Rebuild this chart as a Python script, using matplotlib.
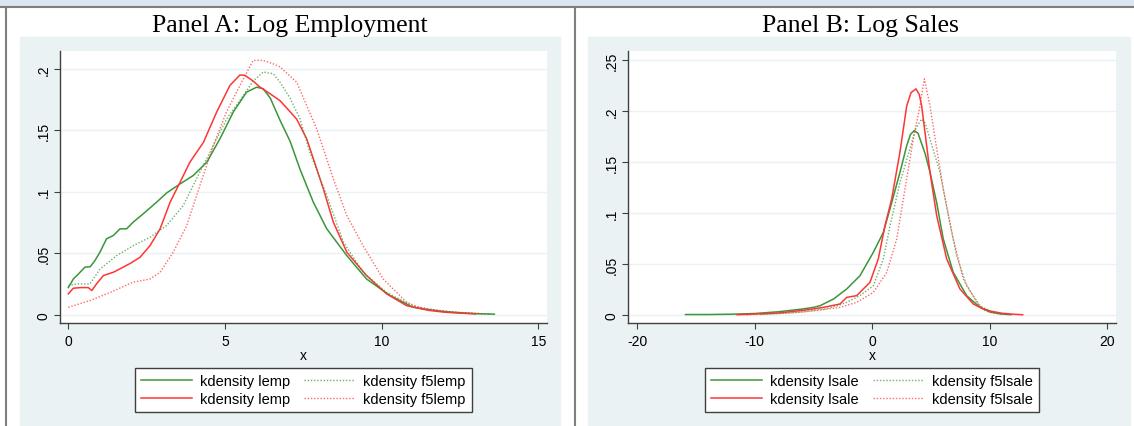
import matplotlib
matplotlib.use("Agg")
import matplotlib.pyplot as plt
from matplotlib.patches import Rectangle
from matplotlib.lines import Line2D

plt.rcParams['font.family'] = ['Liberation Sans', 'DejaVu Sans']
plt.rcParams['axes.unicode_minus'] = False

# ---- Panel A: log employment densities ----
lemp_g_x = [0, 0.16, 0.32, 0.53, 0.7, 0.85, 1.01, 1.22, 1.44, 1.65, 1.86, 2.07, 2.39, 2.82, 3.14,
            3.57, 3.99, 4.42, 4.84, 5.27, 5.69, 6.01, 6.22, 6.45, 6.76, 7.08, 7.40, 7.82, 8.25, 8.89,
            9.52, 10.27, 11.0, 11.5, 12.0, 12.5, 13.0, 13.6]
lemp_g_y = [.022, .029, .033, .0386, .039, .044, .0508, .0617, .0644, .0698, .0698, .0752, .082, .0915, .099,
            .1064, .1132, .124, .143, .165, .181, .185, .1838, .176, .158, .141, .118, .0915, .0698, .048,
            .029, .0155, .006, .004, .0025, .0015, .0008, .0004]

lemp_r_x = [0, 0.16, 0.4, 0.64, 0.75, 0.9, 1.12, 1.44, 1.75, 2.0, 2.29, 2.61, 2.93, 3.25, 3.57, 3.88,
            4.31, 4.74, 5.16, 5.48, 5.64, 5.9, 6.12, 6.44, 6.76, 7.08, 7.29, 7.61, 8.14, 8.46, 8.89,
            9.52, 10.16, 10.8, 11.5, 12.0, 12.5, 13.0]
lemp_r_y = [.0169, .0215, .022, .022, .0196, .025, .0318, .0345, .0386, .042, .0467, .0562, .0698, .0915, .1078, .124,
            .140, .165, .1865, .195, .1946, .190, .185, .1797, .174, .165, .159, .143, .1024, .0752, .0508,
            .0318, .0169, .0073, .0035, .002, .0012, .0006]

f5lemp_g_x = [0, 0.3, 0.69, 1.01, 1.54, 2.07, 2.61, 3.14, 3.67, 4.2, 4.63, 5.05, 5.58, 5.9, 6.22,
              6.54, 6.76, 7.08, 7.40, 7.71, 8.25, 8.78, 9.41, 10.16, 11.0, 11.5, 12.0, 12.5, 13.0, 13.5]
f5lemp_g_y = [.0236, .025, .025, .037, .048, .056, .063, .0725, .0888, .116, .1376, .159, .178, .190, .1974,
              .196, .189, .176, .159, .132, .097, .059, .0345, .018, .007, .0045, .0028, .0016, .001, .0005]

f5lemp_r_x = [0, 0.69, 1.33, 2.07, 2.61, 2.93, 3.35, 3.78, 4.2, 4.63, 5.05, 5.48, 5.9, 6.22, 6.54,
              6.76, 7.29, 7.93, 8.46, 8.89, 9.41, 10.05, 10.8, 11.2, 11.7, 12.2, 12.7, 13.2]
f5lemp_r_y = [.006, .0114, .018, .0264, .029, .0345, .0508, .0725, .105, .1376, .165, .1865, .2068, .2068, .204,
              .2015, .189, .151, .1105, .0806, .056, .029, .010, .006, .0038, .0024, .0014, .0008]

# ---- Panel B: log sales densities ----
lsale_g_x = [-15.9, -14, -12, -10, -8, -6, -5, -4.45, -3.3, -2.18, -1.05, 0.09, 0.94, 1.65, 2.36, 2.93,
             3.25, 3.57, 3.9, 4.06, 4.5, 4.91, 5.48, 6.04, 6.89, 8.03, 9.17, 10.0, 11.0, 11.8]
lsale_g_y = [.0005, .0005, .0008, .0015, .0032, .0058, .0075, .0091, .0157, .0255, .0385, .0615, .081, .110, .140, .166,
             .177, .1807, .178, .1725, .158, .140, .110, .0745, .0418, .019, .0075, .003, .001, .0003]

lsale_r_x = [-11.5, -10, -8, -6, -5, -4.17, -2.75, -2.18, -1.33, -0.2, 0.51, 1.08, 1.65, 2.36, 2.93,
             3.3, 3.72, 4.0, 4.2, 4.91, 5.48, 6.33, 7.46, 8.6, 9.17, 10.0, 11.0, 12.0, 12.8]
lsale_r_y = [.0003, .001, .002, .0045, .006, .0075, .0108, .0173, .019, .032, .055, .0875, .1137, .160, .205,
             .218, .2216, .216, .205, .140, .0974, .055, .0255, .0108, .0075, .004, .0018, .0008, .0003]

f5lsale_g_x = [-9.5, -8, -6, -4, -3, -2.18, -1.05, 0.09, 0.94, 1.51, 2.36, 3.21, 3.7, 4.2, 4.5, 4.91,
               5.76, 6.47, 7.18, 8.03, 9.17, 10, 11]
f5lsale_g_y = [.0005, .0015, .003, .006, .009, .0124, .019, .0287, .055, .0875, .130, .163, .183, .192, .188, .1725,
               .14, .0974, .058, .0287, .009, .004, .001]

f5lsale_r_x = [-10.7, -9, -7, -5, -4, -2.75, -1.33, 0.09, 1.23, 2.08, 2.78, 3.49, 4.06, 4.43, 4.91, 5.48,
               6.04, 6.89, 7.74, 8.89, 9.45, 10.2, 11]
f5lsale_r_y = [.0003, .001, .002, .004, .0055, .0075, .0124, .0222, .0418, .0745, .1235, .1725, .205, .2314, .205, .163,
               .1235, .0745, .0353, .0124, .005, .002, .0008]

# ticks
a_xticks = [0, 5, 10, 15]
a_yticks = [0, .05, .1, .15, .2]
a_ylabels = ['0', '.05', '.1', '.15', '.2']
b_xticks = [-20, -10, 0, 10, 20]
b_yticks = [0, .05, .1, .15, .2, .25]
b_ylabels = ['0', '.05', '.1', '.15', '.2', '.25']

titles = ['Panel A: Log Employment', 'Panel B: Log Sales']
legend_a = ['kdensity lemp', 'kdensity lemp', 'kdensity f5lemp', 'kdensity f5lemp']
legend_b = ['kdensity lsale', 'kdensity lsale', 'kdensity f5lsale', 'kdensity f5lsale']

GREEN = '#3a963a'
RED = '#ff3535'
REGION = '#eaf2f3'
AXC = '#404040'
FS = 10
LFS = 10.5

W, H = 1134, 427
fx = lambda p: p / W
fy = lambda p: 1 - p / H

fig = plt.figure(figsize=(W / 100, H / 100), dpi=100)

# page decorations (table-like frame around the two graphs)
fig.add_artist(Rectangle((0, fy(7)), 1, 7 / H, color='#dce6f1', zorder=-5))
fig.add_artist(Line2D([0, 1], [fy(7.5), fy(7.5)], color='#7f7f7f', lw=1.5, zorder=-4))
for xv in (6, 575):
    fig.add_artist(Line2D([fx(xv), fx(xv)], [0, fy(7.5)], color='#7f7f7f', lw=1.5, zorder=-4))
for x0, x1 in ((20, 560), (588, 1130)):
    fig.add_artist(Rectangle((fx(x0), 0), fx(x1) - fx(x0), fy(38), color=REGION, zorder=-5))


def panel(rect, curves, xlim, ylim, xticks, yticks, ylabels, labels, title, tcx, legx):
    ax = fig.add_axes(rect)
    ax.set_facecolor('white')
    for (xs, ys, col, dotted) in curves:
        if dotted:
            ax.plot(xs, ys, color=col, lw=1.0, ls=(0, (1, 1.3)), alpha=0.75)
        else:
            ax.plot(xs, ys, color=col, lw=1.1)
    ax.set_xlim(*xlim)
    ax.set_ylim(*ylim)
    ax.set_xticks(xticks)
    ax.set_yticks(yticks)
    ax.set_yticklabels(ylabels, rotation=90, va='center')
    ax.tick_params(direction='out', length=4, width=0.8, color=AXC, labelsize=FS, pad=3)
    ax.tick_params(axis='x', pad=4)
    ax.grid(axis='y', color=REGION, lw=1.0)
    ax.set_axisbelow(True)
    for s in ('top', 'right'):
        ax.spines[s].set_visible(False)
    for s in ('left', 'bottom'):
        ax.spines[s].set_color(AXC)
        ax.spines[s].set_linewidth(1.0)
    ax.set_xlabel('x', fontsize=FS, labelpad=0)
    handles = ax.get_lines()
    leg = ax.legend(handles, labels, ncol=2, loc='center',
                    bbox_to_anchor=(fx(legx), fy(391)), bbox_transform=fig.transFigure,
                    fontsize=LFS, handlelength=3.5, handletextpad=0.55, columnspacing=1.0,
                    labelspacing=0.3, borderpad=0.4, fancybox=False, framealpha=1)
    leg.get_frame().set_edgecolor(AXC)
    leg.get_frame().set_linewidth(1.0)
    fig.text(fx(tcx), fy(31.7), title, ha='center', va='baseline',
             fontsize=18.5, family=['Liberation Serif', 'DejaVu Serif'])
    return ax


panel([fx(60), fy(324), fx(546.7) - fx(60), (324 - 51.7) / H],
      [(lemp_g_x, lemp_g_y, GREEN, False), (lemp_r_x, lemp_r_y, RED, False),
       (f5lemp_g_x, f5lemp_g_y, GREEN, True), (f5lemp_r_x, f5lemp_r_y, RED, True)],
      (-0.265, 15.27), (-0.0068, 0.2147), a_xticks, a_yticks, a_ylabels, legend_a,
      titles[0], 290, 303.2)

panel([fx(628), fy(324), fx(1116) - fx(628), (324 - 51.7) / H],
      [(lsale_g_x, lsale_g_y, GREEN, False), (lsale_r_x, lsale_r_y, RED, False),
       (f5lsale_g_x, f5lsale_g_y, GREEN, True), (f5lsale_r_x, f5lsale_r_y, RED, True)],
      (-20.79, 20.74), (-0.0078, 0.259), b_xticks, b_yticks, b_ylabels, legend_b,
      titles[1], 860, 871.8)

fig.savefig('out.png', dpi=100)
